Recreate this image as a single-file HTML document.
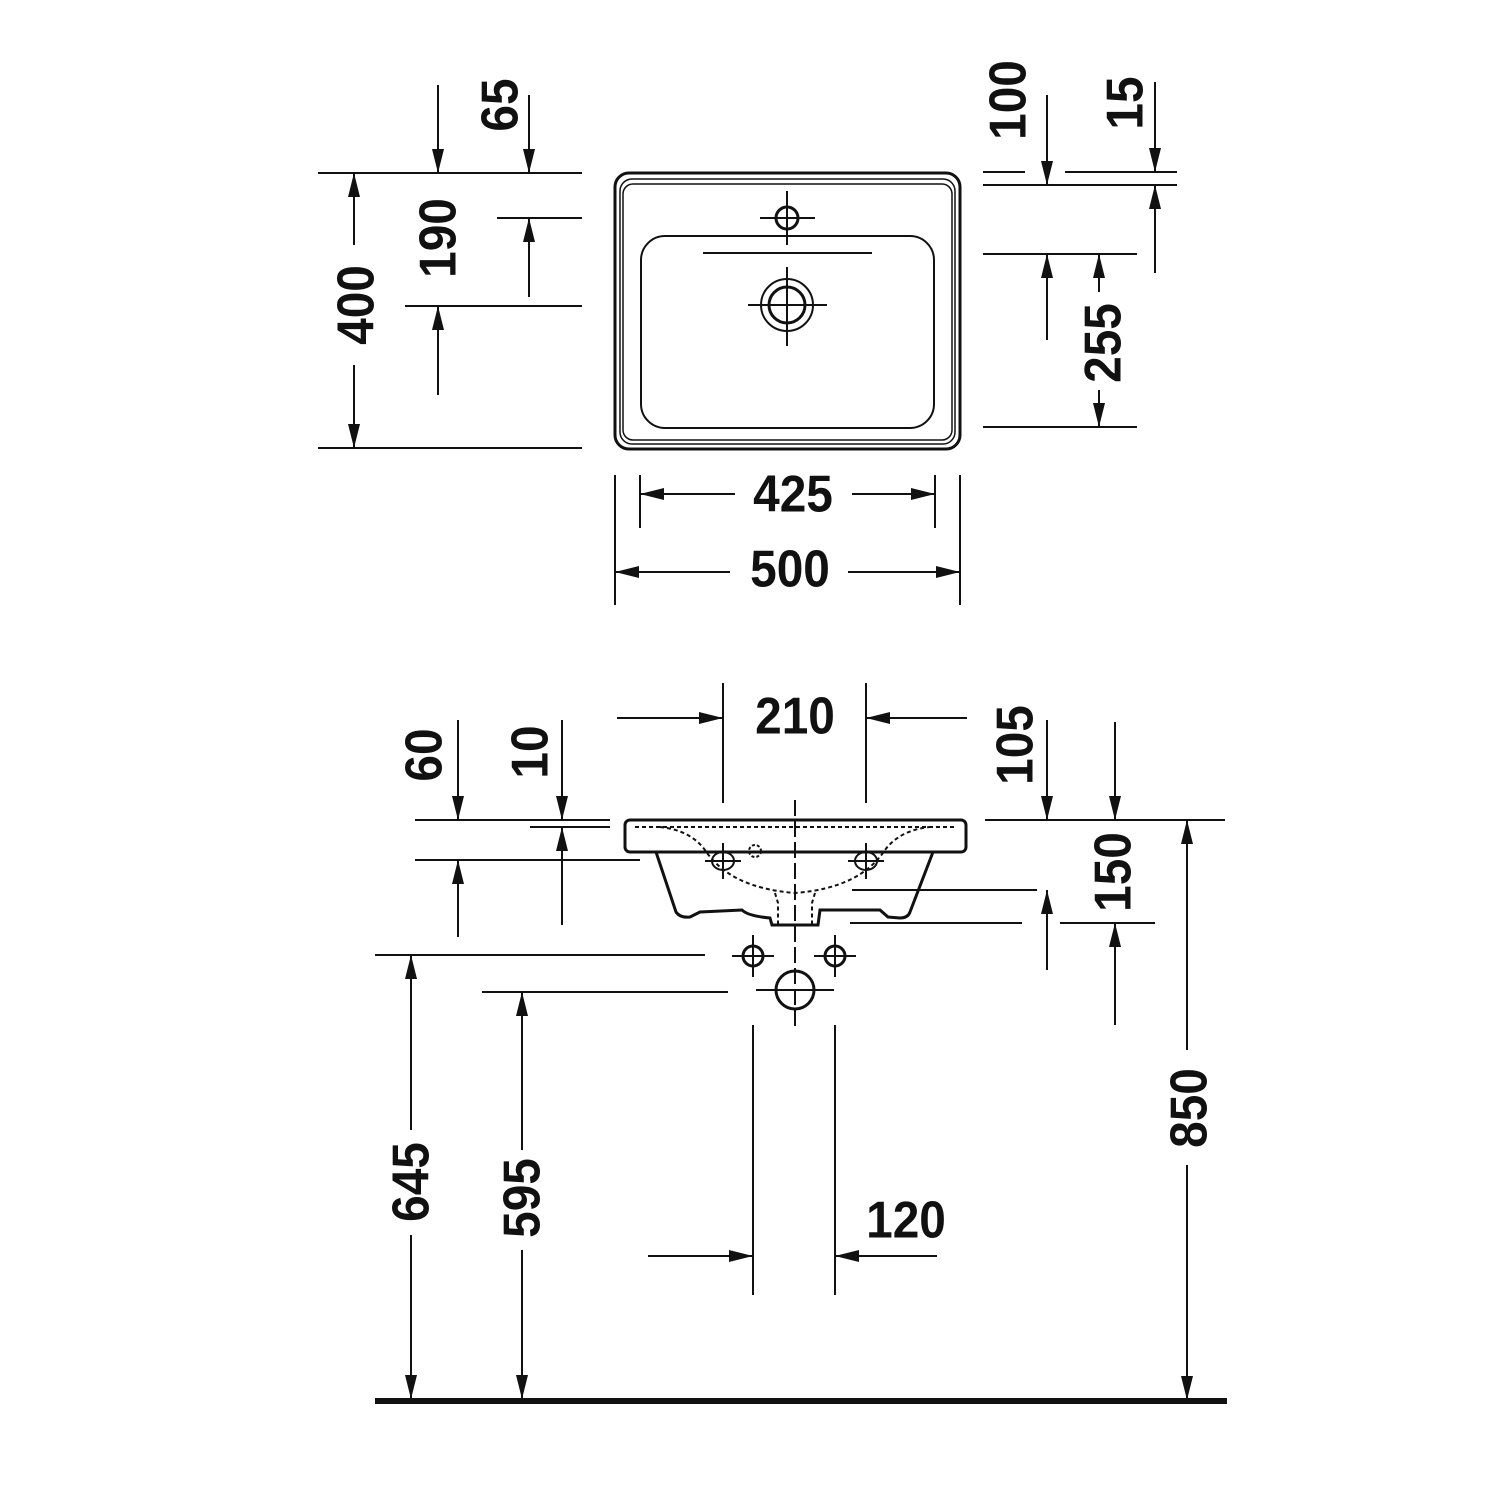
<!DOCTYPE html>
<html><head><meta charset="utf-8"><style>
html,body{margin:0;padding:0;background:#fff}
svg{display:block}
text{font-family:"Liberation Sans Narrow","Liberation Sans",sans-serif;font-weight:bold;font-size:52px;fill:#111;text-anchor:middle;dominant-baseline:central}
</style></head><body>
<svg width="1500" height="1500" viewBox="0 0 1500 1500" xmlns="http://www.w3.org/2000/svg">
<defs>
<marker id="a" viewBox="0 0 24 12" refX="24" refY="6" markerWidth="24" markerHeight="12" markerUnits="userSpaceOnUse" orient="auto"><path d="M0,0 L24,6 L0,12 Z" fill="#111"/></marker>
</defs>
<g stroke="#111" stroke-width="2" fill="none">
<rect x="615" y="173" width="345" height="276" rx="14" stroke-width="3"/>
<rect x="620" y="179" width="335" height="265" rx="12" stroke-width="1.5"/>
<rect x="623" y="184" width="329" height="256" rx="10" stroke-width="1.5"/>
<rect x="641" y="236" width="293" height="192" rx="24"/>
<circle cx="787" cy="218" r="11" stroke-width="3"/>
<line x1="760" y1="218" x2="815" y2="218"/><line x1="787" y1="191" x2="787" y2="245"/>
<line x1="703" y1="253" x2="872" y2="253"/>
<circle cx="787" cy="305" r="26"/><circle cx="787" cy="305" r="18" stroke-width="3"/>
<line x1="748" y1="305" x2="827" y2="305"/><line x1="787" y1="267" x2="787" y2="346"/>

<line x1="318" y1="173" x2="582" y2="173"/>
<line x1="497" y1="218" x2="582" y2="218"/>
<line x1="405" y1="306" x2="582" y2="306"/>
<line x1="318" y1="448" x2="582" y2="448"/>
<line x1="983" y1="172" x2="1025" y2="172"/><line x1="1065" y1="172" x2="1177" y2="172"/>
<line x1="983" y1="185" x2="1177" y2="185"/>
<line x1="983" y1="254" x2="1137" y2="254"/>
<line x1="983" y1="427" x2="1137" y2="427"/>
<line x1="615" y1="475" x2="615" y2="605"/><line x1="960" y1="475" x2="960" y2="605"/>
<line x1="640" y1="475" x2="640" y2="528"/><line x1="935" y1="475" x2="935" y2="528"/>

<line x1="354" y1="245" x2="354" y2="173" marker-end="url(#a)"/>
<line x1="354" y1="365" x2="354" y2="448" marker-end="url(#a)"/>
<line x1="438" y1="85" x2="438" y2="173" marker-end="url(#a)"/>
<line x1="529" y1="95" x2="529" y2="173" marker-end="url(#a)"/>
<line x1="529" y1="297" x2="529" y2="218" marker-end="url(#a)"/>
<line x1="438" y1="395" x2="438" y2="306" marker-end="url(#a)"/>
<line x1="1047" y1="95" x2="1047" y2="185" marker-end="url(#a)"/>
<line x1="1155" y1="82" x2="1155" y2="172" marker-end="url(#a)"/>
<line x1="1155" y1="273" x2="1155" y2="185" marker-end="url(#a)"/>
<line x1="1047" y1="340" x2="1047" y2="254" marker-end="url(#a)"/>
<line x1="1099" y1="292" x2="1099" y2="254" marker-end="url(#a)"/>
<line x1="1099" y1="390" x2="1099" y2="427" marker-end="url(#a)"/>
<line x1="735" y1="494" x2="640" y2="494" marker-end="url(#a)"/>
<line x1="852" y1="494" x2="935" y2="494" marker-end="url(#a)"/>
<line x1="730" y1="572" x2="615" y2="572" marker-end="url(#a)"/>
<line x1="848" y1="572" x2="960" y2="572" marker-end="url(#a)"/>

<rect x="625" y="820" width="341" height="32" rx="5" stroke-width="3"/>
<path d="M656,852 L676,912 Q680,918 690,917 L700,912 L742,910 Q748,916 770,918 L772,925 L818,925 L820,910 L880,910 L888,917 L900,918 Q908,918 910,912 L933,852" stroke-width="3"/>
<path d="M635,827 L955,827" stroke-dasharray="4,3"/>
<path d="M660,827 Q690,830 705,850 Q730,888 795,893 Q860,888 885,850 Q900,830 930,827" stroke-dasharray="4,3"/>
<path d="M775,893 L778,903 L778,925 M815,893 L812,903 L812,925" stroke-dasharray="4,3"/>
<ellipse cx="723" cy="861" rx="11" ry="9"/><line x1="705" y1="861" x2="741" y2="861"/><line x1="723" y1="843" x2="723" y2="879"/>
<ellipse cx="866" cy="861" rx="11" ry="9"/><line x1="848" y1="861" x2="884" y2="861"/><line x1="866" y1="843" x2="866" y2="879"/>
<circle cx="755" cy="851" r="6" stroke-dasharray="3,2"/>
<line x1="795" y1="800" x2="795" y2="1030" stroke-dasharray="16,5"/>
<circle cx="753" cy="956" r="10" stroke-width="3"/><line x1="732" y1="956" x2="774" y2="956"/><line x1="753" y1="935" x2="753" y2="977"/>
<circle cx="835" cy="956" r="10" stroke-width="3"/><line x1="814" y1="956" x2="856" y2="956"/><line x1="835" y1="935" x2="835" y2="977"/>
<circle cx="795" cy="990" r="19" stroke-width="3"/><line x1="756" y1="990" x2="834" y2="990"/>

<line x1="723" y1="683" x2="723" y2="803"/><line x1="866" y1="683" x2="866" y2="803"/>
<line x1="415" y1="820" x2="610" y2="820"/>
<line x1="530" y1="827" x2="610" y2="827"/>
<line x1="415" y1="860" x2="640" y2="860"/>
<line x1="985" y1="820" x2="1225" y2="820"/>
<line x1="852" y1="890" x2="1037" y2="890"/>
<line x1="850" y1="923" x2="1022" y2="923"/><line x1="1060" y1="923" x2="1155" y2="923"/>
<line x1="375" y1="955" x2="705" y2="955"/>
<line x1="482" y1="992" x2="728" y2="992"/>
<line x1="753" y1="1025" x2="753" y2="1295"/><line x1="835" y1="1025" x2="835" y2="1295"/>

<line x1="617" y1="718" x2="723" y2="718" marker-end="url(#a)"/>
<line x1="967" y1="718" x2="866" y2="718" marker-end="url(#a)"/>
<line x1="458" y1="720" x2="458" y2="820" marker-end="url(#a)"/>
<line x1="458" y1="937" x2="458" y2="860" marker-end="url(#a)"/>
<line x1="562" y1="720" x2="562" y2="820" marker-end="url(#a)"/>
<line x1="562" y1="925" x2="562" y2="827" marker-end="url(#a)"/>
<line x1="1047" y1="720" x2="1047" y2="820" marker-end="url(#a)"/>
<line x1="1115" y1="722" x2="1115" y2="820" marker-end="url(#a)"/>
<line x1="1047" y1="970" x2="1047" y2="890" marker-end="url(#a)"/>
<line x1="1115" y1="1025" x2="1115" y2="923" marker-end="url(#a)"/>
<line x1="1187" y1="1050" x2="1187" y2="820" marker-end="url(#a)"/>
<line x1="1187" y1="1165" x2="1187" y2="1400" marker-end="url(#a)"/>
<line x1="411" y1="1130" x2="411" y2="955" marker-end="url(#a)"/>
<line x1="411" y1="1235" x2="411" y2="1399" marker-end="url(#a)"/>
<line x1="522" y1="1150" x2="522" y2="992" marker-end="url(#a)"/>
<line x1="522" y1="1250" x2="522" y2="1399" marker-end="url(#a)"/>
<line x1="648" y1="1256" x2="753" y2="1256" marker-end="url(#a)"/>
<line x1="937" y1="1256" x2="835" y2="1256" marker-end="url(#a)"/>
</g>
<line x1="375" y1="1401" x2="1227" y2="1401" stroke="#111" stroke-width="6"/>

<text transform="translate(356,305) rotate(-90) scale(0.92,1)">400</text>
<text transform="translate(438,238) rotate(-90) scale(0.92,1)">190</text>
<text transform="translate(500,105) rotate(-90) scale(0.92,1)">65</text>
<text transform="translate(1008,100) rotate(-90) scale(0.92,1)">100</text>
<text transform="translate(1125,103) rotate(-90) scale(0.92,1)">15</text>
<text transform="translate(1103,343) rotate(-90) scale(0.92,1)">255</text>
<text transform="translate(793,494) scale(0.92,1)">425</text>
<text transform="translate(790,569) scale(0.92,1)">500</text>
<text transform="translate(795,716) scale(0.92,1)">210</text>
<text transform="translate(424,755) rotate(-90) scale(0.92,1)">60</text>
<text transform="translate(530,752) rotate(-90) scale(0.92,1)">10</text>
<text transform="translate(1015,745) rotate(-90) scale(0.92,1)">105</text>
<text transform="translate(1113,872) rotate(-90) scale(0.92,1)">150</text>
<text transform="translate(1189,1108) rotate(-90) scale(0.92,1)">850</text>
<text transform="translate(411,1182) rotate(-90) scale(0.92,1)">645</text>
<text transform="translate(522,1198) rotate(-90) scale(0.92,1)">595</text>
<text transform="translate(906,1220) scale(0.92,1)">120</text>
</svg>
</body></html>
